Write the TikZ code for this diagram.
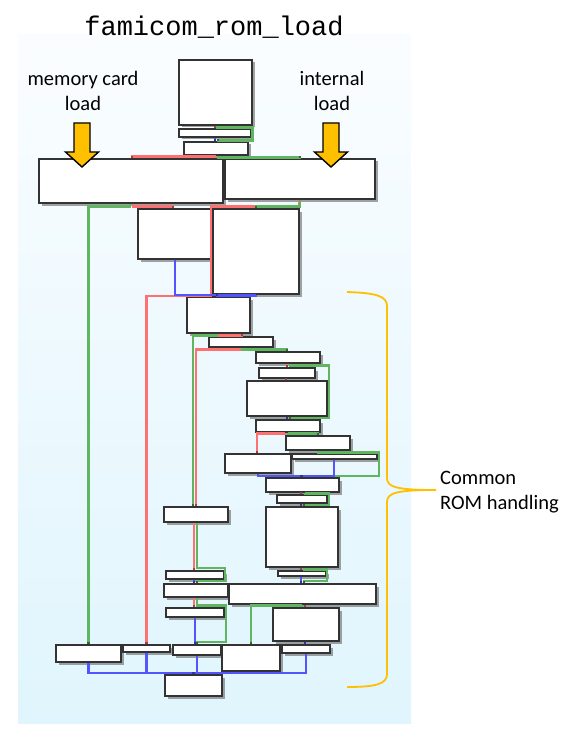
\documentclass[tikz,border=0pt]{standalone}
\usepackage{fontspec}
\setmainfont{Carlito}
\newfontfamily\monofont{Liberation Mono}
\usepackage{tikz}
\usetikzlibrary{fit,shadows,arrows.meta}
\definecolor{cred}{RGB}{255,112,112}
\definecolor{cgreen}{RGB}{96,182,96}
\definecolor{cblue}{RGB}{84,84,255}
\definecolor{cgold}{RGB}{255,192,0}
\definecolor{paneltop}{RGB}{250,253,255}
\definecolor{panelbot}{RGB}{224,245,253}
\begin{document}
\begin{tikzpicture}
  [x=1pt,y=-1pt,
  blk/.style={draw=black!80,fill=white,line width=1.2pt,inner sep=0pt,
    drop shadow={shadow xshift=2.5pt,shadow yshift=-2.5pt,fill=black!60,opacity=.6}},
  jtrue/.style={draw=cgreen,line width=2.3pt,
    -{Square[length=2pt,width=2.8pt,color=cgreen!55!black]}},
  jfalse/.style={draw=cred,line width=2.3pt,
    -{Square[length=2pt,width=2.8pt,color=cred!60!black]}},
  jgoto/.style={draw=cblue,line width=2.3pt,
    -{Square[length=2pt,width=2.8pt,color=cblue!60!black]}},
  entry/.pic={\draw[fill=cgold,line width=1.4pt,line join=miter]
    (-8,0)--(8,0)--(8,29)--(16.5,29)--(0,44)--(-16.5,29)--(-8,29)--cycle;}]
  \useasboundingbox (0,0) rectangle (573,730);
  \shade[top color=paneltop,bottom color=panelbot] (18,35) rectangle (411,723);
  \node[anchor=base,font=\monofont\fontsize{27}{30}\selectfont] (title) at (214,36) {famicom\_rom\_load};
  % basic blocks
  \foreach \n/\xa/\ya/\xb/\yb in {
    A/179/60/252/125, B/179/129/251/137, C/184/142/248/155,
    D/39/159/223/203, E/225/159/375/199, F/138/209/211/259,
    G/213/209/299/294, H/187/297/250/333, I/209/337/273/347,
    J/256/352/320/363, K/259/368/315/378, L/247/381/327/416,
    M/256/420/320/432, N/286/436/350/450, O/225/454/291/473,
    P/292/454/377/459, Q/266/478/339/492, R/277/495/327/503,
    S/164/507/228/522, T/266/507/338/567, U/166/571/224/579,
    V/278/571/326/576, W/164/584/228/597, X/229/584/376/604,
    Y/166/608/224/617, Z/273/608/339/641,
    b1/56/645/121/662, b2/123/645/170/652, b3/173/645/221/655,
    b4/222/645/280/671, b5/282/645/330/653, ret/165/675/222/696}
  \node[blk,fit={(\xa,\ya) (\xb,\yb)}] (\n) {};
  % edges
  \draw[jfalse] (A.south) -- (A.south |- B.north);
  \draw[jtrue] ([xshift=2pt]A.south) -- ++(0,2) -| ++(35,13) -| ([xshift=2pt]C.north);
  \draw[jgoto] (B.south) -- (B.south |- C.north);
  \draw[jfalse] (C.south) -- ++(0,1) -| (132,0 |- D.north);
  \draw[jtrue] ([xshift=2pt]C.south) -- ++(0,2) -| (300,0 |- E.north);
  \draw[jfalse] (133,0 |- D.south) -- ++(0,3) -| (173,0 |- F.north);
  \draw[jtrue] (130,0 |- D.south) -- ++(0,3) -| (b1.north);
  \draw[jfalse] (299,0 |- E.south) -- ++(0,7) -| (211,296) -| (b2.north);
  \draw[jtrue] (300,0 |- E.south) -- ++(0,7) -| (256,0 |- G.north);
  \draw[jgoto] (175,0 |- F.south) -- (175,295) -| (217,0 |- H.north);
  \draw[jgoto] (256,0 |- G.south) -- ++(0,1) -| (217,0 |- H.north);
  \draw[jfalse] (219,0 |- H.south) -- ++(0,2) -| (242,0 |- I.north);
  \draw[jtrue] (217,0 |- H.south) -- ++(0,2) -| (193,0 |- S.north);
  \draw[jfalse] (240,0 |- I.south) -- ++(0,2) -| (196,0 |- S.north);
  \draw[jtrue] (242,0 |- I.south) -- ++(0,2) -| (287,0 |- J.north);
  \draw[jfalse] (287,0 |- J.south) -- (287,0 |- K.north);
  \draw[jtrue] (290,0 |- J.south) -- ++(0,2) -| (329,418) -| (290,0 |- M.north);
  \draw[jfalse] (286,0 |- K.south) -- (286,0 |- L.north);
  \draw[jgoto] (287,0 |- L.south) -- (287,0 |- M.north);
  \draw[jfalse] (285,0 |- M.south) -- ++(0,1) -| (257,0 |- O.north);
  \draw[jtrue] (288,0 |- M.south) -- ++(0,1) -| (318,0 |- N.north);
  \draw[jfalse] (334,0 |- N.south) -- (334,0 |- P.north);
  \draw[jtrue] (318,0 |- N.south) -- ++(0,2) -| (379,476) -| (304,0 |- Q.north);
  \draw[jgoto] (334,0 |- P.south) -- (334,476) -| (302,0 |- Q.north);
  \draw[jgoto] (258,0 |- O.south) -- (258,476) -| (301,0 |- Q.north);
  \draw[jfalse] (301,0 |- Q.south) -- (301,0 |- R.north);
  \draw[jtrue] (305,0 |- Q.south) -- ++(0,1) -| (329,505) -| (304,0 |- T.north);
  \draw[jgoto] (301,0 |- R.south) -- (301,0 |- T.north);
  \draw[jfalse] (301,0 |- T.south) -- (301,0 |- V.north);
  \draw[jtrue] (304,0 |- T.south) -- ++(0,2) -| (327,581) -| (304,0 |- X.north);
  \draw[jgoto] (301,0 |- V.south) -- (301,0 |- X.north);
  \draw[jfalse] (194,0 |- S.south) -- (194,0 |- U.north);
  \draw[jtrue] (197,0 |- S.south) -- (197,568) -| (225,581) -| (197,0 |- W.north);
  \draw[jgoto] (194,0 |- U.south) -- (194,0 |- W.north);
  \draw[jfalse] (194,0 |- W.south) -- (194,0 |- Y.north);
  \draw[jtrue] (197,0 |- W.south) -- ++(0,8) -| (226,642) -| (197,0 |- b3.north);
  \draw[jgoto] (195,0 |- Y.south) -- (195,0 |- b3.north);
  \draw[jtrue] (302,0 |- X.south) -- ++(0,1) -| (b4.north);
  \draw[jfalse] (305,0 |- X.south) -- (305,0 |- Z.north);
  \draw[jgoto] (305,0 |- Z.south) -- (305,0 |- b5.north);
  \foreach \b in {b1,b2,b3,b4,b5}
  \draw[jgoto] (\b.south) -- (\b.south |- 0,673) -| (ret.north);
  % entry points
  \node[anchor=north,align=center,inner sep=0pt,font=\fontsize{20.5}{25}\selectfont]
  (mcard) at (83,71) {memory card\\load};
  \node[anchor=north,align=center,inner sep=0pt,font=\fontsize{20.5}{25}\selectfont]
  (intern) at (332,71) {internal\\load};
  \path (82,123) pic{entry} (331,123) pic{entry};
  % common part
  \draw[cgold,line width=1.8pt] (347,292) .. controls (376,293) and (387,296) .. (387,306)
  -- (387,478) .. controls (387,487) and (396,490) .. (436,490)
  .. controls (396,490) and (387,493) .. (387,502)
  -- (387,674) .. controls (387,684) and (376,687) .. (347,687);
  \node[anchor=north west,align=left,inner sep=0pt,font=\fontsize{20.5}{25}\selectfont]
  (common) at (440,471) {Common\\ROM handling};
\end{tikzpicture}
\end{document}
